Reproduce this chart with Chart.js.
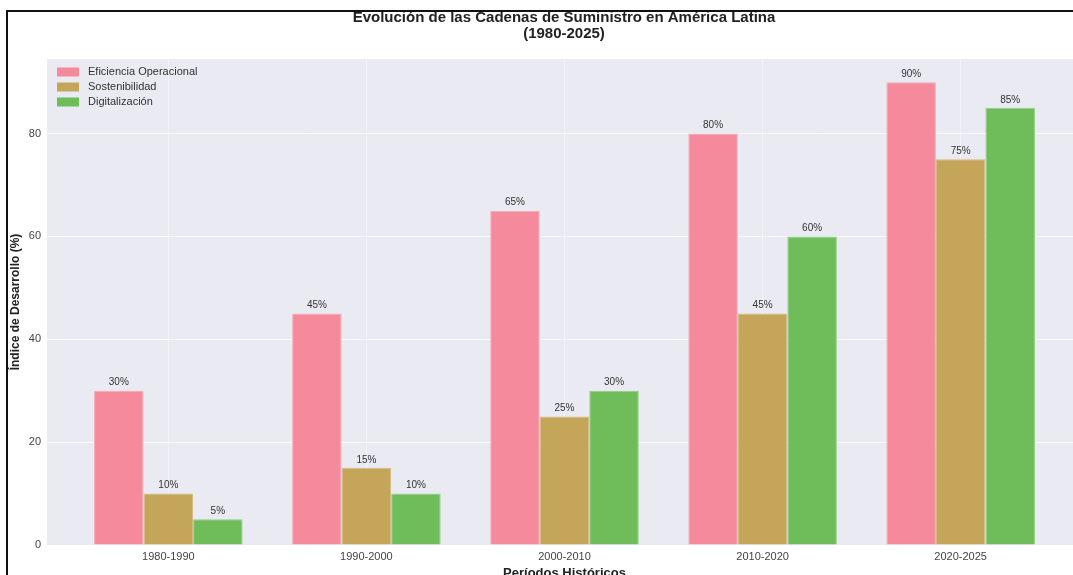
<!DOCTYPE html>
<html lang="es">
<head>
<meta charset="utf-8">
<title>Cadenas de Suministro en América Latina</title>
<script src="https://cdn.jsdelivr.net/npm/chart.js@4/dist/chart.umd.min.js"></script>
<style>
  html, body { margin: 0; padding: 0; background: #fff; overflow: hidden; }
  #wrap { position: relative; width: 1073px; height: 575px; overflow: hidden; }
  #grafico { position: absolute; left: 0; top: 0; }
  #marco {
    position: absolute; left: 6px; top: 10px; width: 2000px; height: 2000px;
    border-left: 2px solid #111; border-top: 2px solid #111; pointer-events: none;
  }
</style>
</head>
<body>
<div id="wrap">
  <canvas id="grafico" width="1128" height="590"></canvas>
  <div id="marco"></div>
</div>
<script>
// Datos por periodo
var periodos = ['1980-1990', '1990-2000', '2000-2010', '2010-2020', '2020-2025'];
var eficiencia = [30, 45, 65, 80, 90];
var sostenibilidad = [10, 15, 25, 45, 75];
var digitalizacion = [5, 10, 30, 60, 85];
var yTicks = [0, 20, 40, 60, 80];

function puntos(valores) {
    return valores.map(function (v, i) { return { x: i, y: v }; });
}

var colores = {
    eficiencia: ['#F48A9B', '#F7A9B5'],
    sostenibilidad: ['#C4A55A', '#D3BA7E'],
    digitalizacion: ['#6EBD5A', '#92CE83']
};

// Fondo gris del área de trazado
var fondo = {
    id: 'fondo',
    beforeDraw: function (chart) {
        var a = chart.chartArea, ctx = chart.ctx;
        ctx.save();
        ctx.fillStyle = '#EAEAF2';
        ctx.fillRect(a.left, a.top, a.right - a.left, a.bottom - a.top);
        ctx.restore();
    }
};

// Título, leyenda y etiquetas de valor
var textos = {
    id: 'textos',
    afterDatasetsDraw: function (chart) {
        var ctx = chart.ctx;
        ctx.save();
        // etiquetas sobre las barras
        ctx.font = '10px "Liberation Sans", Arial, sans-serif';
        ctx.fillStyle = '#333';
        ctx.textAlign = 'center';
        ctx.textBaseline = 'middle';
        chart.data.datasets.forEach(function (ds, di) {
            chart.getDatasetMeta(di).data.forEach(function (bar, i) {
                ctx.fillText(ds.data[i].y + '%', bar.x, bar.y - 8);
            });
        });

        // leyenda
        ctx.textAlign = 'left';
        ctx.font = '11px "Liberation Sans", Arial, sans-serif';
        chart.data.datasets.forEach(function (ds, di) {
            var y = 72 + di * 15;
            ctx.fillStyle = ds.backgroundColor;
            ctx.fillRect(57, y - 4.5, 22, 9);
            ctx.fillStyle = '#333';
            ctx.fillText(ds.label, 88, y);
        });

        // título
        ctx.textAlign = 'center';
        ctx.fillStyle = '#222';
        ctx.font = 'bold 15px "Liberation Sans", Arial, sans-serif';
        ctx.fillText('Evolución de las Cadenas de Suministro en América Latina', 564, 18);
        ctx.fillText('(1980-2025)', 564, 34);
        ctx.restore();
    }
};

var ctx = document.getElementById('grafico').getContext('2d');
var grafico = new Chart(ctx, {
    type: 'bar',
    data: {
        datasets: [{
            label: 'Eficiencia Operacional',
            data: puntos(eficiencia),
            backgroundColor: colores.eficiencia[0],
            borderColor: colores.eficiencia[1],
            borderWidth: 1
        }, {
            label: 'Sostenibilidad',
            data: puntos(sostenibilidad),
            backgroundColor: colores.sostenibilidad[0],
            borderColor: colores.sostenibilidad[1],
            borderWidth: 1
        }, {
            label: 'Digitalización',
            data: puntos(digitalizacion),
            backgroundColor: colores.digitalizacion[0],
            borderColor: colores.digitalizacion[1],
            borderWidth: 1
        }]
    },
    options: {
        responsive: false,
        animation: false,
        devicePixelRatio: 1,
        layout: { padding: { top: 59, right: 46, left: 0, bottom: 0 } },
        datasets: { bar: { categoryPercentage: 0.75, barPercentage: 1 } },
        plugins: {
            legend: { display: false },
            title: { display: false },
            tooltip: { enabled: false }
        },
        scales: {
            x: {
                type: 'linear',
                min: -0.6125,
                max: 4.6125,
                offset: false,
                afterBuildTicks: function (axis) {
                    axis.ticks = periodos.map(function (p, i) { return { value: i }; });
                },
                afterFit: function (axis) { axis.height = 45; },
                ticks: {
                    autoSkip: false,
                    maxRotation: 0,
                    padding: 5,
                    color: '#444',
                    font: { size: 11, family: '"Liberation Sans", Arial, sans-serif' },
                    callback: function (v, i) { return periodos[i]; }
                },
                grid: { color: 'rgba(255,255,255,0.45)', lineWidth: 1, drawTicks: false, offset: false },
                border: { display: false },
                title: {
                    display: true,
                    text: 'Períodos Históricos',
                    color: '#222',
                    padding: { top: 0, bottom: 9 },
                    font: { size: 13, weight: 'bold', family: '"Liberation Sans", Arial, sans-serif' }
                }
            },
            y: {
                min: 0,
                max: 94.5,
                afterBuildTicks: function (axis) {
                    axis.ticks = yTicks.map(function (v) { return { value: v }; });
                },
                afterFit: function (axis) { axis.width = 47; },
                ticks: {
                    padding: 6,
                    color: '#444',
                    font: { size: 11, family: '"Liberation Sans", Arial, sans-serif' }
                },
                grid: { color: 'rgba(255,255,255,0.7)', lineWidth: 1, drawTicks: false },
                border: { display: false },
                title: {
                    display: true,
                    text: 'Índice de Desarrollo (%)',
                    color: '#222',
                    padding: { top: 8, bottom: 0 },
                    font: { size: 12, weight: 'bold', family: '"Liberation Sans", Arial, sans-serif' }
                }
            }
        }
    },
    plugins: [fondo, textos]
});
</script>
</body>
</html>
